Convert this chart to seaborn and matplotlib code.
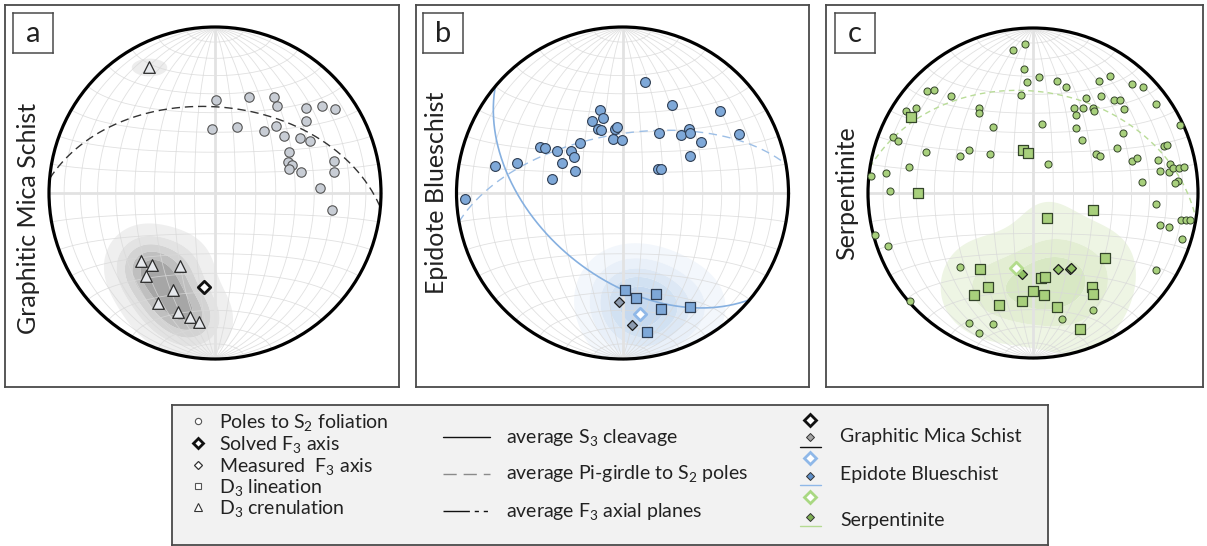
import numpy as np
import matplotlib
matplotlib.use("Agg")
import matplotlib.pyplot as plt
import seaborn as sns
from matplotlib.patches import Circle
from matplotlib.path import Path

# ---------------- data: net coordinates (unit primitive circle, x = east, y = north) ----------------
# Panel a - Graphitic Mica Schist
a_pole_x = [0.006, 0.205, 0.357, 0.375, 0.548, 0.645, 0.721, -0.020, 0.133, 0.297, 0.367, 0.548,
            0.414, 0.510, 0.570, 0.448, 0.438, 0.462, 0.444, 0.518, 0.717, 0.719, 0.635, 0.703]
a_pole_y = [0.560, 0.578, 0.578, 0.524, 0.514, 0.526, 0.506, 0.388, 0.398, 0.373, 0.402, 0.434,
            0.345, 0.329, 0.311, 0.247, 0.187, 0.169, 0.145, 0.129, 0.191, 0.127, 0.032, -0.100]
a_cren_x = [-0.396, -0.446, -0.382, -0.209, -0.418, -0.255, -0.341, -0.225, -0.153, -0.098]
a_cren_y = [0.761, -0.408, -0.436, -0.438, -0.498, -0.584, -0.661, -0.719, -0.749, -0.777]
a_solved_x = [-0.066]
a_solved_y = [-0.564]
a_girdle = (5, 47)          # dip direction, dip

# Panel b - Epidote Blueschist
b_pole_x = [0.133, 0.297, 0.588, -0.133, -0.120, -0.183, -0.149, -0.129, -0.046, -0.032, -0.056,
            -0.004, 0.219, 0.351, 0.400, 0.404, 0.472, 0.703, 0.404, 0.215, 0.229, -0.259, -0.498,
            -0.466, -0.392, -0.309, -0.293, -0.367, -0.285, -0.424, -0.635, -0.767, -0.948]
b_pole_y = [0.671, 0.530, 0.494, 0.500, 0.454, 0.434, 0.386, 0.380, 0.384, 0.400, 0.323,
            0.317, 0.361, 0.349, 0.383, 0.359, 0.305, 0.357, 0.223, 0.145, 0.147, 0.301, 0.277,
            0.271, 0.255, 0.253, 0.215, 0.181, 0.133, 0.082, 0.183, 0.165, -0.034]
b_lin_x = [0.014, 0.080, 0.201, 0.231, 0.404, 0.149]
b_lin_y = [-0.584, -0.635, -0.608, -0.699, -0.689, -0.835]
b_meas_x = [-0.020, 0.056]
b_meas_y = [-0.655, -0.795]
b_solved_x = [0.106]
b_solved_y = [-0.729]
b_cleavage = (220, 49)
b_girdle = (350, 61)

# Panel c - Serpentinite
c_pole_x = [-0.046, -0.121, -0.052, -0.034, 0.038, 0.147, 0.202, 0.397, 0.466, 0.597, 0.667, -0.071,
            -0.645, -0.603, -0.494, -0.768, -0.710, -0.325, -0.327, 0.323, 0.415, 0.490, 0.526, 0.246,
            0.302, 0.365, 0.367, 0.550, 0.746, 0.262, 0.052, -0.242, 0.258, 0.891, -0.851, -0.821,
            0.544, 0.294, 0.792, 0.812, -0.649, -0.389, -0.440, -0.262, 0.379, 0.405, 0.508, 0.599,
            0.629, 0.091, -0.754, -0.889, -0.982, 0.758, 0.770, 0.833, 0.825, 0.851, 0.887, 0.917,
            0.881, 0.859, 0.661, -0.869, 0.748, 0.768, 0.827, 0.895, 0.925, 0.954, 0.905, -0.956,
            -0.877, 0.748, -0.441, -0.746, 0.361, 0.177, -0.385, -0.242, -0.325]
c_pole_y = [0.905, 0.869, 0.754, 0.673, 0.704, 0.677, 0.641, 0.681, 0.710, 0.659, 0.641, 0.591,
            0.621, 0.623, 0.587, 0.500, 0.516, 0.516, 0.486, 0.577, 0.587, 0.565, 0.562, 0.518,
            0.516, 0.516, 0.500, 0.508, 0.538, 0.472, 0.419, 0.401, 0.395, 0.411, 0.341, 0.315,
            0.363, 0.323, 0.284, 0.292, 0.246, 0.262, 0.224, 0.236, 0.238, 0.224, 0.270, 0.194,
            0.212, 0.173, 0.159, 0.123, 0.105, 0.198, 0.133, 0.175, 0.127, 0.149, 0.153, 0.157,
            0.075, 0.060, 0.066, 0.014, -0.067, -0.192, -0.206, -0.161, -0.163, -0.165, -0.280, -0.256,
            -0.321, -0.468, -0.446, -0.653, -0.708, -0.762, -0.790, -0.794, -0.849]
c_lin_x = [-0.738, -0.060, -0.032, -0.696, 0.365, 0.085, 0.438, -0.321, 0.050, 0.075, -0.274, 0.359,
           0.365, -0.359, 0.000, 0.065, -0.069, -0.204, 0.147, 0.286]
c_lin_y = [0.458, 0.260, 0.240, -0.002, -0.105, -0.153, -0.395, -0.462, -0.518, -0.512, -0.567, -0.571,
           -0.611, -0.621, -0.591, -0.619, -0.653, -0.679, -0.692, -0.825]
c_meas_x = [-0.069, 0.151, 0.226, 0.230]
c_meas_y = [-0.492, -0.458, -0.462, -0.452]
c_solved_x = [-0.101]
c_solved_y = [-0.452]
c_girdle = (9, 38.5)

# ---------------- style ----------------
sns.set_theme(style="white")
plt.rcParams["font.family"] = ["Lato", "DejaVu Sans"]
plt.rcParams["mathtext.fontset"] = "custom"
plt.rcParams["mathtext.rm"] = "Lato"
plt.rcParams["mathtext.it"] = "Lato:italic"
plt.rcParams["mathtext.bf"] = "Lato:bold"

W, H = 1207, 546
fig = plt.figure(figsize=(W / 100, H / 100), dpi=100, facecolor="white")
TXT = "#222222"


def fig_rect(x0, y0, x1, y1):
    return [x0 / W, 1 - y1 / H, (x1 - x0) / W, (y1 - y0) / H]


def proj(E, N, D):
    s = np.sqrt(1.0 + D)
    return E / s, N / s


def great_circle(dipdir, dip, n=400):
    dd, dp = np.radians(dipdir), np.radians(dip)
    st = dd - np.pi / 2
    t = np.linspace(0, np.pi, n)
    sv = np.array([np.sin(st), np.cos(st), 0.0])
    dv = np.array([np.sin(dd) * np.cos(dp), np.cos(dd) * np.cos(dp), np.sin(dp)])
    v = np.outer(np.cos(t), sv) + np.outer(np.sin(t), dv)
    return proj(v[:, 0], v[:, 1], v[:, 2])


def draw_net(ax):
    t = np.radians(np.linspace(-90, 90, 241))
    gc = "#d9d9d9"
    for lam in range(-80, 90, 10):
        if lam == 0:
            continue
        L = np.radians(lam)
        x, y = proj(np.cos(t) * np.sin(L), np.sin(t), np.cos(t) * np.cos(L))
        ax.plot(x, y, color=gc, lw=0.6, alpha=0.8, zorder=2)
    for phi in range(-80, 90, 10):
        if phi == 0:
            continue
        P = np.radians(phi)
        x, y = proj(np.cos(P) * np.sin(t), np.full_like(t, np.sin(P)), np.cos(P) * np.cos(t))
        ax.plot(x, y, color=gc, lw=0.6, alpha=0.8, zorder=2)
    ax.plot([-1, 1], [0, 0], color="#e2e2e2", lw=2.0, zorder=2.2)
    ax.plot([0, 0], [-1, 1], color="#e2e2e2", lw=2.0, zorder=2.2)
    ax.add_patch(Circle((0, 0), 1, fill=False, ec="black", lw=2.3, zorder=4))


def panel_axes(box, center_x, radius):
    x0, y0, x1, y1 = box
    ax = fig.add_axes(fig_rect(x0, y0, x1, y1))
    cy = 193
    ax.set_xlim(-(center_x - x0) / radius, (x1 - center_x) / radius)
    ax.set_ylim(-(y1 - cy) / radius, (cy - y0) / radius)
    ax.set_xticks([])
    ax.set_yticks([])
    for sp in ax.spines.values():
        sp.set_color("#4a4a4a")
        sp.set_linewidth(1.3)
    return ax


def density(ax, x, y, h, fracs, colors):
    """Isotropic Gaussian density on the net, filled at fractions of its peak."""
    g = np.linspace(-1.05, 1.05, 320)
    X, Y = np.meshgrid(g, g)
    Z = np.zeros_like(X)
    for xi, yi in zip(x, y):
        Z += np.exp(-((X - xi) ** 2 + (Y - yi) ** 2) / (2 * h * h))
    levels = list(np.array(fracs) * Z.max()) + [Z.max() * 1.01]
    cs = ax.contourf(X, Y, Z, levels=levels, colors=colors, zorder=1, antialiased=True)
    cs.set_clip_path(Circle((0, 0), 1, transform=ax.transData))


def letter_box(x0, y0, letter):
    lab = fig.add_axes(fig_rect(x0, y0, x0 + 40, y0 + 40))
    lab.set_xticks([])
    lab.set_yticks([])
    for sp in lab.spines.values():
        sp.set_color("#4a4a4a")
        sp.set_linewidth(1.1)
    lab.text(0.5, 0.47, letter, ha="center", va="center", fontsize=21, color=TXT,
             transform=lab.transAxes)


def finish(ax, xl, yl):
    ax.set_xlim(*xl)
    ax.set_ylim(*yl)
    ax.set_xlabel("")
    ax.set_ylabel("")


# ---------------- panel a ----------------
axa = panel_axes((5, 5, 399, 387), 215, 166)
xla, yla = axa.get_xlim(), axa.get_ylim()
cx = np.array(a_cren_x)
cyv = np.array(a_cren_y)
main = cyv < 0
density(axa, cx[main], cyv[main], 0.125, [0.10, 0.28, 0.46, 0.64, 0.82],
        ["#efefef", "#e3e3e3", "#d3d3d3", "#bfbfbf", "#a6a6a6"])
th = np.linspace(0, 2 * np.pi, 60)
blob = Path(np.column_stack([np.cos(th), 0.5 * np.sin(th)]), closed=True)
sns.scatterplot(x=cx[~main], y=cyv[~main], marker=blob, s=650, color="#ededed", linewidth=0,
                ax=axa, zorder=1, legend=False)
draw_net(axa)
gx, gy = great_circle(*a_girdle)
sns.lineplot(x=gx, y=gy, sort=False, estimator=None, color="#333333", lw=1.0,
             linestyle=(0, (6, 3.5)), ax=axa, zorder=3)
sns.scatterplot(x=a_pole_x, y=a_pole_y, marker="o", s=46, color="#c8cdd5", edgecolor="#555555",
                linewidth=0.8, ax=axa, zorder=5, legend=False)
sns.scatterplot(x=a_cren_x, y=a_cren_y, marker="^", s=70, color="#e6e8ec", edgecolor="#2b2b2b",
                linewidth=0.9, ax=axa, zorder=5, legend=False)
sns.scatterplot(x=a_solved_x, y=a_solved_y, marker="D", s=40, color="white", edgecolor="#111111",
                linewidth=2.0, ax=axa, zorder=6, legend=False)
finish(axa, xla, yla)

# ---------------- panel b ----------------
axb = panel_axes((416, 5, 809, 387), 622.5, 166)
xlb, ylb = axb.get_xlim(), axb.get_ylim()
density(axb, b_lin_x + b_meas_x, b_lin_y + b_meas_y, 0.15, [0.08, 0.24, 0.42, 0.60, 0.80],
        ["#f3f7fc", "#e9f0f9", "#dde8f5", "#d1e1f2", "#c6d9ef"])
draw_net(axb)
gx, gy = great_circle(*b_girdle)
sns.lineplot(x=gx, y=gy, sort=False, estimator=None, color="#9dbfe6", lw=1.0,
             linestyle=(0, (6, 4)), ax=axb, zorder=3)
gx, gy = great_circle(*b_cleavage)
sns.lineplot(x=gx, y=gy, sort=False, estimator=None, color="#86b0e0", lw=1.2, ax=axb, zorder=3)
sns.scatterplot(x=b_pole_x, y=b_pole_y, marker="o", s=50, color="#7ea8d8", edgecolor="#2e3d52",
                linewidth=0.8, ax=axb, zorder=5, legend=False)
sns.scatterplot(x=b_lin_x, y=b_lin_y, marker="s", s=52, color="#7ea8d8", edgecolor="#2e3d52",
                linewidth=0.9, ax=axb, zorder=5, legend=False)
sns.scatterplot(x=b_meas_x, y=b_meas_y, marker="D", s=26, color="#8c9bb0", edgecolor="#1e1e1e",
                linewidth=0.9, ax=axb, zorder=6, legend=False)
sns.scatterplot(x=b_solved_x, y=b_solved_y, marker="D", s=40, color="white", edgecolor="#8fb8e8",
                linewidth=2.0, ax=axb, zorder=6, legend=False)
finish(axb, xlb, ylb)

# ---------------- panel c ----------------
axc = panel_axes((826, 5, 1203, 387), 1033, 165)
xlc, ylc = axc.get_xlim(), axc.get_ylim()
lx = np.array(c_lin_x)
ly = np.array(c_lin_y)
south = ly < -0.12
dens_x = list(lx[south]) + c_meas_x
dens_y = list(ly[south]) + c_meas_y
density(axc, dens_x, dens_y, 0.16, [0.12, 0.42, 0.72],
        ["#eef5e4", "#e3eed3", "#d8e8c4"])
draw_net(axc)
gx, gy = great_circle(*c_girdle)
sns.lineplot(x=gx, y=gy, sort=False, estimator=None, color="#b9dc98", lw=1.0,
             linestyle=(0, (4, 3)), ax=axc, zorder=3)
sns.scatterplot(x=c_pole_x, y=c_pole_y, marker="o", s=26, color="#a8d07c", edgecolor="#34452a",
                linewidth=0.7, ax=axc, zorder=5, legend=False)
sns.scatterplot(x=c_lin_x, y=c_lin_y, marker="s", s=52, color="#a8d07c", edgecolor="#34452a",
                linewidth=0.9, ax=axc, zorder=5, legend=False)
sns.scatterplot(x=c_meas_x, y=c_meas_y, marker="D", s=26, color="#8fbf63", edgecolor="#1e1e1e",
                linewidth=0.9, ax=axc, zorder=6, legend=False)
sns.scatterplot(x=c_solved_x, y=c_solved_y, marker="D", s=40, color="white", edgecolor="#b3dc8c",
                linewidth=2.0, ax=axc, zorder=6, legend=False)
finish(axc, xlc, ylc)

# ---------------- labels ----------------
letter_box(13, 13, "a")
letter_box(423, 13, "b")
letter_box(835, 13, "c")
fig.text(29 / W, 1 - 218 / H, "Graphitic Mica Schist", rotation=90, ha="center", va="center",
         fontsize=18, color=TXT)
fig.text(437 / W, 1 - 193 / H, "Epidote Blueschist", rotation=90, ha="center", va="center",
         fontsize=18, color=TXT)
fig.text(847 / W, 1 - 193 / H, "Serpentinite", rotation=90, ha="center", va="center",
         fontsize=18, color=TXT)

# ---------------- legend ----------------
lg = fig.add_axes(fig_rect(172, 405, 1048, 545))
lg.set_xlim(172, 1048)
lg.set_ylim(545, 405)
lg.set_facecolor("#f2f2f2")
lg.set_xticks([])
lg.set_yticks([])
for sp in lg.spines.values():
    sp.set_color("#4a4a4a")
    sp.set_linewidth(1.3)
FS = 14

left_rows = [
    (421, dict(marker="o", ms=4.5, mfc="white", mec="#555555", mew=0.8), r"Poles to S$_2$ foliation"),
    (443, dict(marker="D", ms=5.5, mfc="white", mec="#111111", mew=2.0), r"Solved F$_3$ axis"),
    (465, dict(marker="D", ms=4.5, mfc="white", mec="#333333", mew=0.9), r"Measured  F$_3$ axis"),
    (486, dict(marker="s", ms=5.0, mfc="white", mec="#555555", mew=0.8), r"D$_3$ lineation"),
    (507, dict(marker="^", ms=5.5, mfc="white", mec="#333333", mew=0.8), r"D$_3$ crenulation"),
]
for y, mk, label in left_rows:
    lg.plot([198], [y], ls="none", **mk)
    lg.text(219, y + 7, label, fontsize=FS, color=TXT, va="baseline", ha="left")

mid_rows = [
    (437, dict(color="#111111", lw=1.0, ls="-"), r"average S$_3$ cleavage"),
    (474, dict(color="#8a8a8a", lw=1.0, ls=(0, (9.5, 5))), r"average Pi-girdle to S$_2$ poles"),
    (511, dict(color="#111111", lw=1.0, ls=(0, (19, 3.5, 3, 3.5, 3, 20))), r"average F$_3$ axial planes"),
]
for y, st, label in mid_rows:
    lg.plot([443, 490], [y, y], **st)
    lg.text(506, y + 5.5, label, fontsize=FS, color=TXT, va="baseline", ha="left")

right_rows = [
    (420, 437, 447, "#111111", "#a4a4a4", "#111111", "Graphitic Mica Schist", 435),
    (458, 476, 485, "#8fb8e8", "#5f8fc8", "#8fb8e8", "Epidote Blueschist", 473),
    (497, 517, 526, "#a9d882", "#7fb055", "#b5da92", "Serpentinite", 519),
]
for yb, ys, yl, cbig, csmall, cline, label, yt in right_rows:
    lg.plot([810], [yb], marker="D", ms=6, mfc="white", mec=cbig, mew=2.0, ls="none")
    lg.plot([810], [ys], marker="D", ms=4.2, mfc=csmall, mec="#333333", mew=0.7, ls="none")
    lg.plot([800, 821], [yl, yl], color=cline, lw=1.0)
    lg.text(840, yt + 7, label, fontsize=FS, color=TXT, va="baseline", ha="left")

fig.savefig("out.png", dpi=100, facecolor="white")
